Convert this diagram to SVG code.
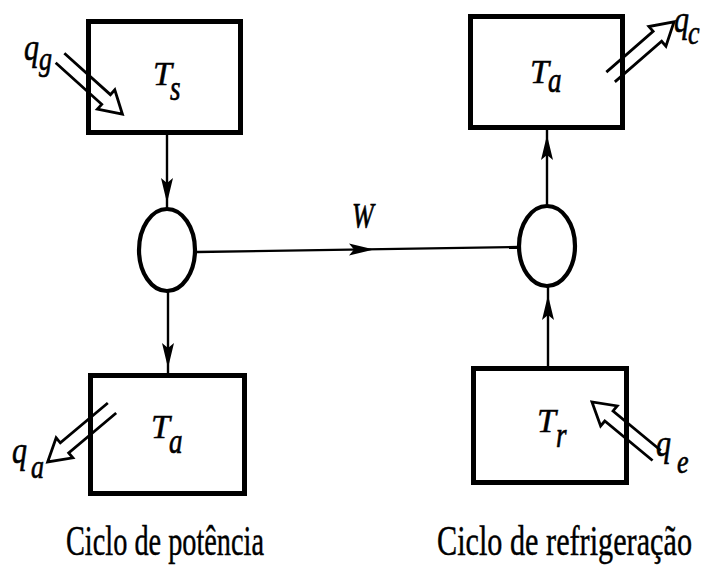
<svg xmlns="http://www.w3.org/2000/svg" xmlns:xlink="http://www.w3.org/1999/xlink" width="707" height="566" viewBox="0 0 707 566">
<style>
.box{fill:none;stroke:#000;stroke-width:5}
.cir{fill:none;stroke:#000;stroke-width:4.2}
.ln{fill:none;stroke:#000;stroke-width:2.4}
.hq{fill:none;stroke:#000;stroke-width:2.8;stroke-linejoin:miter}
.ah{fill:#000;stroke:none}
.it{font-family:"Liberation Serif","DejaVu Serif",serif;font-style:italic;fill:#000;stroke:#000;stroke-width:0.5}
.cap{font-family:"Liberation Serif","DejaVu Serif",serif;font-size:34px;fill:#000;stroke:#000;stroke-width:0.35}
</style>
<defs>
<path id="hollow" d="M0,-6.5 H62 L62,-13 L84,0 L62,13 L62,6.5 H0"/>
<path id="headDown" d="M0,0 L-6,-25 L0,-20 L6,-25 Z"/>
</defs>
<rect width="707" height="566" fill="#fff"/>

<g id="connectors">
  <line class="ln" x1="167" y1="135" x2="167" y2="208"/>
  <use href="#headDown" class="ah" transform="translate(167,203)"/>
  <line class="ln" x1="168" y1="292" x2="168" y2="374"/>
  <use href="#headDown" class="ah" transform="translate(168,368)"/>
  <line class="ln" x1="547" y1="130" x2="547" y2="205"/>
  <use href="#headDown" class="ah" transform="translate(547,135) rotate(180)"/>
  <line class="ln" x1="548" y1="287" x2="548" y2="368"/>
  <use href="#headDown" class="ah" transform="translate(548,295) rotate(180)"/>
  <line class="ln" x1="197" y1="252" x2="519" y2="247"/>
  <use href="#headDown" class="ah" transform="translate(374,249.5) rotate(-90)"/>
  <text class="it" font-size="26" transform="translate(352,228) scale(1,1.4)">W</text>
  <use href="#hollow" class="hq" transform="translate(60,58) rotate(42)"/>
  <use href="#hollow" class="hq" transform="translate(610.6,77) rotate(-41)"/>
  <use href="#hollow" class="hq" transform="translate(112,408) rotate(140)"/>
  <use href="#hollow" class="hq" transform="translate(656.7,455.5) rotate(219.6)"/>
</g>

<g id="qg">
  <text class="it" font-size="30" transform="translate(24,60) scale(1,1.25)">q</text>
  <text class="it" font-size="26" transform="translate(39,70) scale(1,1.3)">g</text>
</g>
<g id="qc">
  <text class="it" font-size="30" transform="translate(674,32) scale(1,1.25)">q</text>
  <text class="it" font-size="26" transform="translate(688,44) scale(1,1.3)">c</text>
</g>
<g id="qa">
  <text class="it" font-size="30" transform="translate(12,463) scale(1,1.25)">q</text>
  <text class="it" font-size="26" transform="translate(31,478) scale(1,1.3)">a</text>
</g>
<g id="qe">
  <text class="it" font-size="30" transform="translate(656,456) scale(1,1.25)">q</text>
  <text class="it" font-size="26" transform="translate(677,473) scale(1,1.3)">e</text>
</g>

<g id="box-ts">
  <rect class="box" x="88.5" y="21.5" width="152" height="111"/>
  <text class="it" font-size="34" x="153" y="85">T</text>
  <text class="it" font-size="27" transform="translate(170,100) scale(1,1.35)">s</text>
</g>
<g id="box-ta-top">
  <rect class="box" x="470.5" y="16.5" width="152" height="111"/>
  <text class="it" font-size="34" x="530" y="83">T</text>
  <text class="it" font-size="27" transform="translate(548,92) scale(1,1.35)">a</text>
</g>
<g id="box-ta-bottom">
  <rect class="box" x="90.5" y="375.5" width="154" height="118"/>
  <text class="it" font-size="34" x="151" y="438">T</text>
  <text class="it" font-size="27" transform="translate(169,453) scale(1,1.35)">a</text>
</g>
<g id="box-tr">
  <rect class="box" x="473.5" y="368.5" width="153" height="114"/>
  <text class="it" font-size="34" x="537" y="432">T</text>
  <text class="it" font-size="27" transform="translate(556,447) scale(1,1.35)">r</text>
</g>

<g id="cycle-left">
  <ellipse class="cir" cx="167" cy="250" rx="28" ry="41"/>
</g>
<g id="cycle-right">
  <ellipse class="cir" cx="547" cy="246" rx="28" ry="40"/>
</g>

<g id="captions">
  <text class="cap" transform="translate(66,555) scale(1,1.27)" textLength="198" lengthAdjust="spacingAndGlyphs">Ciclo de potência</text>
  <text class="cap" transform="translate(437,555) scale(1,1.27)" textLength="255" lengthAdjust="spacingAndGlyphs">Ciclo de refrigeração</text>
</g>
</svg>
